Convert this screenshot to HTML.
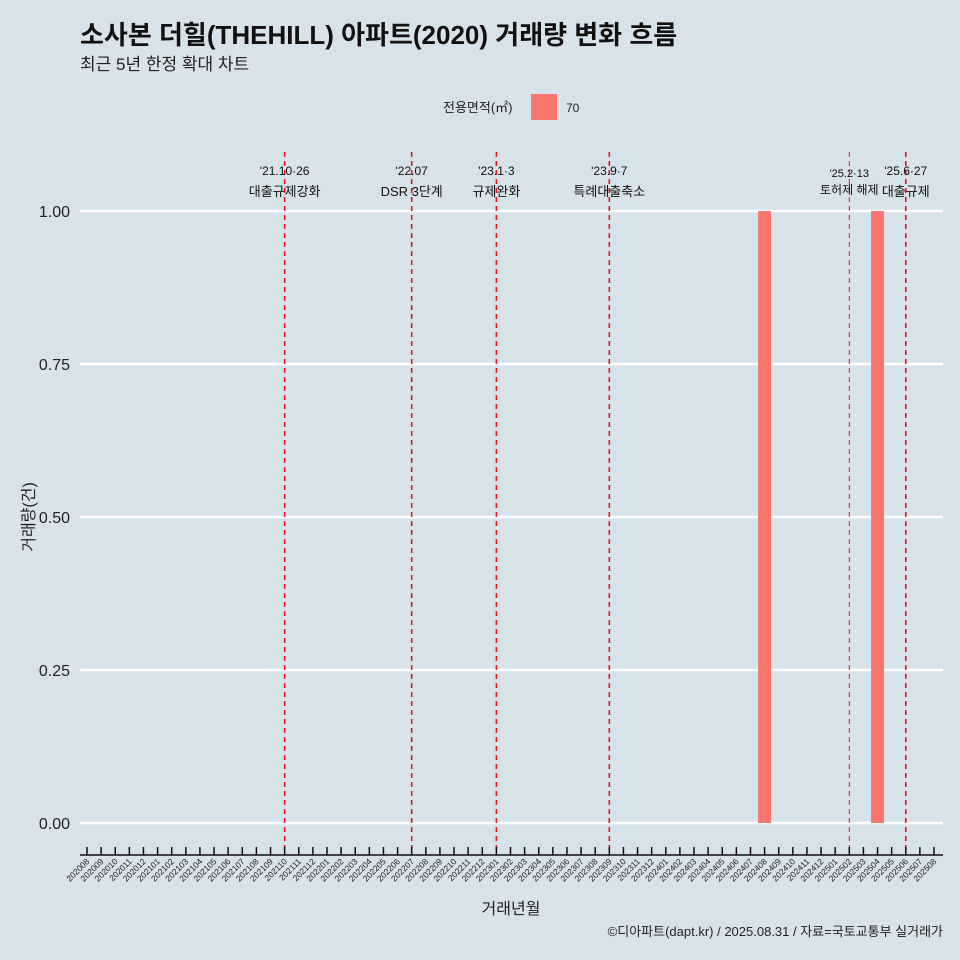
<!DOCTYPE html>
<html><head><meta charset="utf-8"><style>
body{margin:0;background:#d6e3ea;}
svg{display:block;font-family:"Liberation Sans","Noto Sans CJK KR",sans-serif;}
</style></head><body>
<svg id="c" width="960" height="960">
<rect width="960" height="960" fill="#d6e3ea"/>
<text x="80" y="44" font-size="26" font-weight="bold" fill="#111">소사본 더힐(THEHILL) 아파트(2020) 거래량 변화 흐름</text>
<text x="80" y="70" font-size="17" fill="#222">최근 5년 한정 확대 차트</text>
<g>
<text x="443" y="112" font-size="13" fill="#222">전용면적(㎡)</text>
<rect x="531" y="94" width="26" height="26" fill="#f8766d"/>
<text x="566" y="112" font-size="12" fill="#222">70</text>
</g>
<text x="943" y="936" font-size="13" text-anchor="end" fill="#222">©디아파트(dapt.kr) / 2025.08.31 / 자료=국토교통부 실거래가</text>
<text x="511" y="914" font-size="16" text-anchor="middle" fill="#222">거래년월</text>
<text transform="translate(34,517) rotate(-90)" font-size="16" text-anchor="middle" fill="#222">거래량(건)</text>
<g id="grid"></g><g id="bars"></g><g id="lines"></g><g id="axis"></g>
</svg>
<script>
const months=[];
for(let y=2020;y<=2025;y++)for(let m=1;m<=12;m++){const k=y*100+m;if(k>=202008&&k<=202508)months.push(String(k));}
const barMonths=["202408","202504"];
const barValues=[1,1];
const yTicks=[0,0.25,0.5,0.75,1.0];
const yTickLabels=["0.00","0.25","0.50","0.75","1.00"];
const eventMonths=["202110","202207","202301","202309","202502","202506"];
const eventDates=["'21.10·26","'22.07","'23.1·3","'23.9·7","'25.2·13","'25.6·27"];
const eventLabels=["대출규제강화","DSR 3단계","규제완화","특례대출축소","토허제 해제","대출규제"];
const NS="http://www.w3.org/2000/svg";
const xs=i=>87+i*(934-87)/60;
const ys=v=>823-v*(823-211);
const xm=m=>xs(months.indexOf(m));
function mk(t,a,p){const e=document.createElementNS(NS,t);for(const k in a)e.setAttribute(k,a[k]);p.appendChild(e);return e;}
const G=document.getElementById('grid'),B=document.getElementById('bars'),L=document.getElementById('lines'),A=document.getElementById('axis');
yTicks.forEach((v,i)=>{
 const g=mk('line',{x1:80,x2:943,y1:ys(v),y2:ys(v),stroke:'#fff','stroke-width':2.5},G);
 
 
 const t=mk('text',{x:70,y:ys(v)+6,'font-size':16,'text-anchor':'end',fill:'#222'},G);
 
 
 t.textContent=yTickLabels[i];
});
barMonths.forEach((m,i)=>{
 const x=xm(m);
 const r=mk('rect',{x:x-6.5,width:13,y:ys(barValues[i]),height:ys(0)-ys(barValues[i]),fill:'#f8766d'},B);
 
 
});
eventMonths.forEach((m,i)=>{
 const x=xm(m);const thin=m==="202502";
 const l=mk('line',{x1:x,x2:x,y1:152,y2:855,stroke:'#e8141c','stroke-width':thin?1:1.6,'stroke-dasharray':'5,4'},L);
 
 
 const fs=thin?11:12;
 const t1=mk('text',{x:x,y:thin?177:175,'font-size':fs,'text-anchor':'middle',fill:'#111'},L);
 
 
 t1.textContent=eventDates[i];
 const t2=mk('text',{x:x,y:thin?194:196,'font-size':fs+1,'text-anchor':'middle',fill:'#111'},L);
 
 
 t2.textContent=eventLabels[i];
});
const ax=mk('line',{x1:80,x2:943,y1:855,y2:855,stroke:'#111','stroke-width':1.5},A);


months.forEach((m,i)=>{
 const x=xs(i);
 const tk=mk('line',{x1:x,x2:x,y1:847,y2:855,stroke:'#111','stroke-width':1.5},A);
 
 
 const t=mk('text',{x:x+3,y:862,'font-size':8.5,'text-anchor':'end',fill:'#222',transform:`rotate(-45 ${x+3} 862)`},A);
 
 
 t.textContent=m;
});
</script>
</body></html>
